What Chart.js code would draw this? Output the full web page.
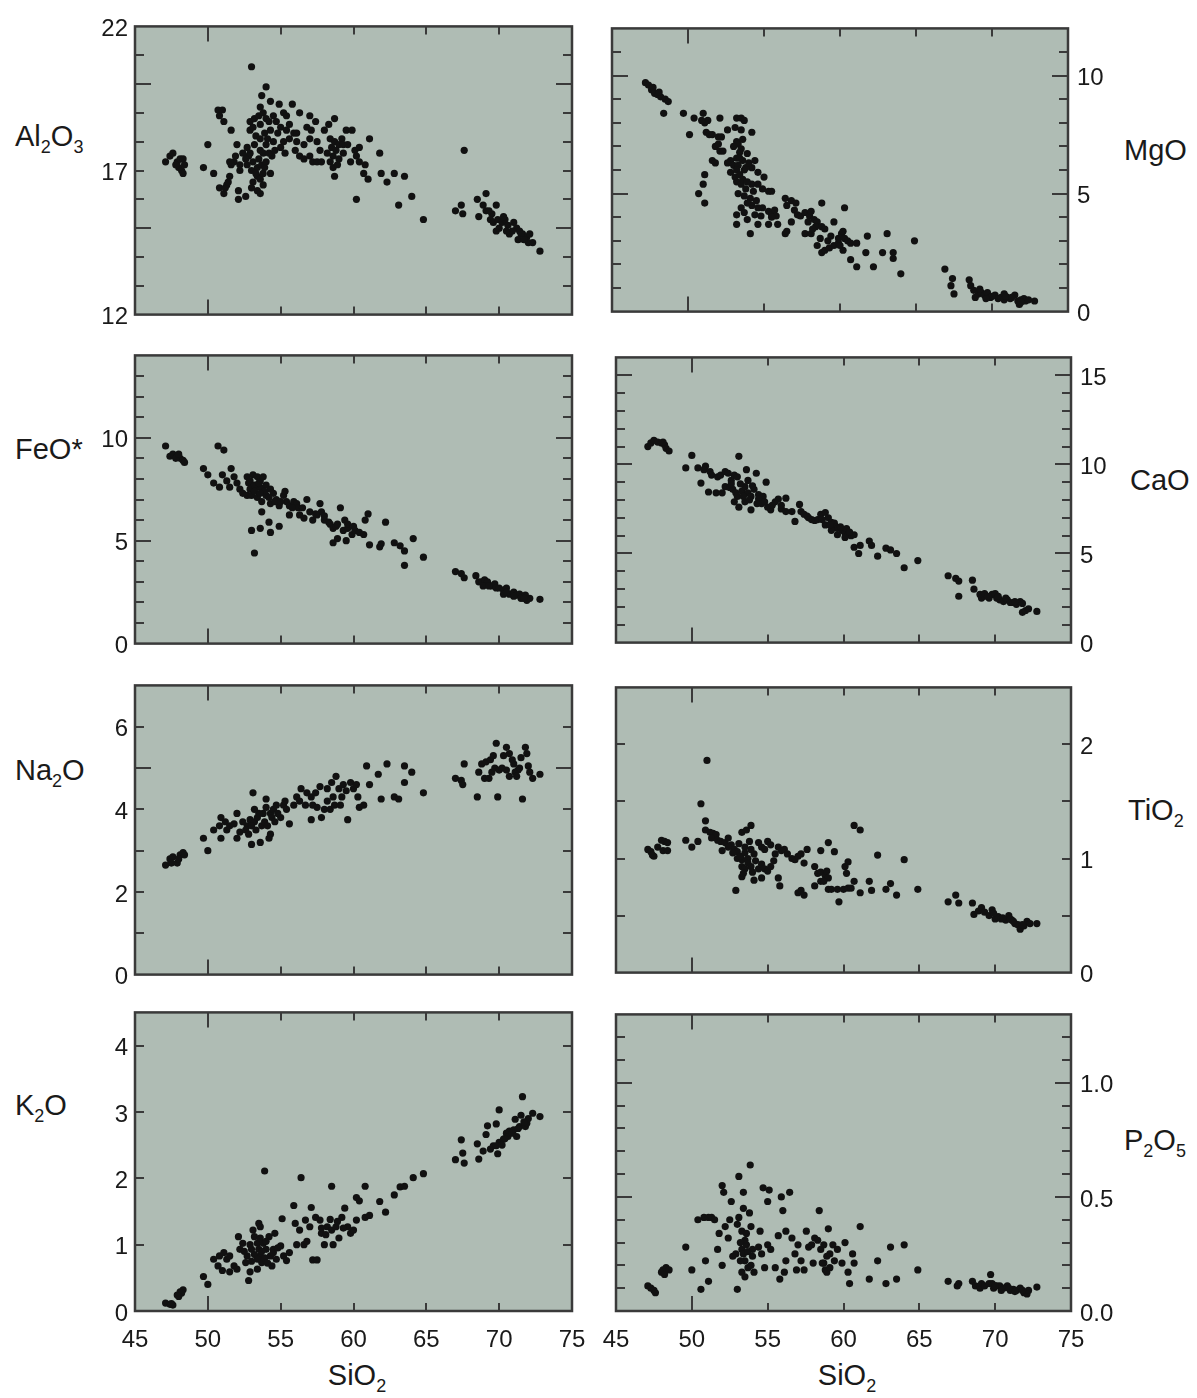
<!DOCTYPE html>
<html>
<head>
<meta charset="utf-8">
<script src="https://cdn.jsdelivr.net/npm/chart.js@4.4.1/dist/chart.umd.min.js"></script>
<style>
  body { margin: 0; background: #fff; width: 1197px; height: 1398px; position: relative; overflow: hidden;
         font-family: "Liberation Sans", Arial, sans-serif; color: #1a1a1a; }
  canvas { position: absolute; }
  .ttl { position: absolute; font-size: 29px; line-height: 29px; white-space: nowrap; }
  .ttl sub { font-size: 18px; vertical-align: -7px; line-height: 0; }
  .ctr { transform: translateX(-50%); }
</style>
</head>
<body>
<div class="ttl" style="left:15px;top:122px">Al<sub>2</sub>O<sub>3</sub></div>
<div class="ttl" style="left:15px;top:435px">FeO*</div>
<div class="ttl" style="left:15px;top:756px">Na<sub>2</sub>O</div>
<div class="ttl" style="left:15px;top:1091px">K<sub>2</sub>O</div>
<div class="ttl" style="left:1124px;top:136px">MgO</div>
<div class="ttl" style="left:1130px;top:466px">CaO</div>
<div class="ttl" style="left:1128px;top:796px">TiO<sub>2</sub></div>
<div class="ttl" style="left:1124px;top:1126px">P<sub>2</sub>O<sub>5</sub></div>
<div class="ttl ctr" style="left:357px;top:1361px">SiO<sub>2</sub></div>
<div class="ttl ctr" style="left:847px;top:1361px">SiO<sub>2</sub></div>

<script>
// x axis (SiO2, wt%)
const sio2Labels = [45, 50, 55, 60, 65, 70, 75];
const sio2TickMarks = [50, 55, 60, 65, 70];
const sio2Major = [50];

// [SiO2, oxide] pairs
const al2o3Points = [
  [47.1,17.3],[47.4,17.5],[47.6,17.6],[47.9,17.3],[48.1,17.4],[48.3,17.4],[48.0,17.1],[48.2,17.0],[48.3,16.9],[47.8,17.2],[48.4,17.2],
  [49.7,17.1],[50.0,17.9],[50.4,16.9],
  [50.7,19.1],[50.8,18.9],[51.0,19.1],[51.1,18.7],[51.6,18.4],[50.8,16.4],[51.1,16.2],[51.3,16.5],[51.5,16.8],[51.2,16.4],[51.4,16.6],
  [51.8,17.3],[51.6,17.2],[52.0,17.9],[52.1,16.3],[52.1,16.0],[52.6,16.1],[52.2,17.0],[51.9,17.5],[51.5,17.3],
  [53.0,20.6],[54.0,19.9],[53.7,19.6],[53.6,19.2],[54.3,19.4],[54.9,19.3],[55.8,19.3],[52.9,18.7],[53.2,18.8],[53.5,18.9],
  [53.8,19.0],[54.0,18.8],[54.5,18.9],[54.7,18.7],[55.2,19.0],[55.4,18.9],[55.6,18.6],[52.9,18.4],[53.1,18.5],[53.6,18.6],
  [54.3,18.4],[55.0,18.5],[55.4,18.4],[55.9,18.3],[56.1,18.3],[52.7,17.8],[52.9,17.6],[53.2,17.9],[53.6,17.7],[54.0,17.9],
  [54.5,18.0],[55.0,17.8],[55.2,18.0],[52.8,17.5],[53.1,17.3],[53.4,17.1],[53.7,17.2],[54.0,17.3],[54.4,17.5],[53.4,16.8],
  [53.6,16.7],[53.8,16.9],[54.3,16.9],[53.1,16.6],[53.4,16.3],[53.6,16.2],[53.0,16.4],[53.8,17.6],[52.4,17.6],[52.7,17.2],[52.2,17.2],
  [53.3,18.2],[53.5,17.4],[53.9,18.3],[54.2,17.6],[54.6,17.7],[53.0,17.0],[53.3,16.9],[53.8,16.5],[54.1,18.1],[54.8,18.3],
  [55.3,17.6],[55.6,18.1],[53.6,18.1],[54.2,18.7],[52.6,17.4],[53.9,17.1],
  [56.3,19.0],[57.0,18.9],[57.4,18.7],[56.1,18.0],[56.6,17.9],[57.0,18.1],[57.5,18.0],[57.7,17.7],[56.0,17.7],[56.3,17.5],
  [56.6,17.4],[57.0,17.5],[57.2,17.3],[57.5,17.3],[57.8,17.3],[56.8,18.5],[57.1,18.4],
  [58.7,18.8],[58.0,18.4],[58.4,18.1],[58.7,18.0],[59.0,17.9],[58.5,17.8],[58.8,17.7],[59.2,18.1],[59.5,18.4],[59.9,18.4],
  [59.3,17.9],[58.6,17.5],[59.0,17.4],[58.4,17.3],[58.6,17.1],[58.7,16.8],[59.3,17.6],[59.8,17.3],[60.1,17.7],[60.4,17.8],
  [60.2,17.5],[60.4,17.3],[60.8,17.2],[60.7,16.9],[61.0,16.7],[60.2,16.0],[61.1,18.1],[61.8,17.6],[61.9,16.9],[62.3,16.6],
  [62.8,16.9],[63.5,16.8],[63.1,15.8],[64.0,16.1],[64.8,15.3],[58.2,17.6],[58.9,17.2],[59.6,17.9],[58.3,18.6],
  [67.6,17.7],
  [67.0,15.6],[67.4,15.8],[67.5,15.5],[68.5,16.0],[69.1,16.2],[68.6,15.4],[68.9,15.8],[69.1,15.6],[69.5,15.5],[69.8,15.8],
  [69.4,15.3],[69.6,15.2],[69.9,15.3],[70.2,15.2],[70.4,15.3],[70.6,15.1],[71.0,15.2],[71.2,15.0],[70.7,14.8],[69.8,14.9],
  [71.4,14.9],[71.6,14.8],[71.9,14.7],[72.1,14.8],[72.0,14.5],[72.3,14.5],[72.8,14.2],[71.5,14.8],[70.3,15.4],
  [70.0,15.0],[70.9,14.9],[71.3,14.6],[71.7,14.6],[69.3,15.6],[70.5,14.9]
];

const mgoPoints = [
  [47.2,9.7],[47.4,9.6],[47.6,9.4],[47.8,9.25],[48.0,9.2],[48.2,9.1],[48.5,9.0],[48.7,8.9],[47.7,9.5],[48.1,9.3],
  [48.4,8.4],[49.7,8.4],[50.1,7.5],[50.4,8.2],[51.0,8.4],[51.1,8.0],[51.3,8.1],[50.9,8.1],[52.1,8.2],[51.2,7.6],
  [51.4,7.5],[51.6,7.5],[52.0,7.4],[52.2,7.4],[51.8,7.0],[52.0,7.1],[52.1,6.8],[52.3,6.8],[51.6,6.4],[51.8,6.3],
  [51.1,5.8],[51.0,5.4],[50.7,5.0],[51.1,4.6],
  [53.2,8.2],[53.5,8.2],[53.7,8.1],[52.6,7.7],[53.1,7.8],[53.5,7.7],[54.2,7.6],[53.2,7.2],[53.3,7.1],[53.5,6.9],
  [53.4,6.75],[53.9,6.7],[53.2,6.5],[52.8,6.4],[52.6,6.3],[53.0,6.2],[53.3,6.2],[53.6,6.4],[54.4,6.4],[54.2,6.1],
  [52.8,5.9],[53.2,6.0],[53.7,6.0],[54.6,5.9],[55.0,5.7],[53.2,5.5],[53.5,5.4],[53.8,5.2],[54.2,5.4],[54.6,5.4],
  [54.9,5.2],[55.3,5.1],[55.5,5.1],[53.3,5.0],[53.7,4.9],[54.1,4.8],[53.5,4.4],[54.2,4.5],[54.6,4.4],[54.9,4.4],
  [53.2,4.1],[53.7,4.2],[54.4,4.1],[54.8,4.05],[55.3,4.25],[55.5,4.1],[55.7,4.3],[55.8,4.05],[53.2,3.7],[53.9,3.9],
  [54.1,3.3],[54.6,3.7],[55.3,3.7],[55.5,4.0],[55.9,3.7],[56.4,3.3],[56.5,3.4],[56.8,3.8],
  [53.0,7.0],[53.4,6.5],[53.6,7.3],[53.8,6.1],[53.1,5.7],[53.4,5.8],[53.6,5.6],[53.9,5.5],[54.0,6.3],[54.3,5.1],
  [53.9,4.6],[54.5,4.7],
  [56.4,4.8],[56.8,4.7],[57.1,4.6],[56.5,4.5],[57.0,4.3],[57.2,4.1],[57.4,4.05],[57.7,4.2],[58.0,4.05],[58.1,4.25],
  [58.3,3.9],[58.5,3.8],[58.8,4.6],[58.4,3.6],[58.8,3.6],[59.0,3.5],[57.7,3.3],[58.1,3.3],[58.7,3.1],[58.5,2.8],
  [58.8,2.5],[59.0,2.6],[59.3,2.7],[59.6,2.8],[59.9,2.9],[59.9,3.1],[60.1,3.3],[60.2,3.4],[60.3,3.1],[60.5,3.0],
  [60.7,2.9],[61.1,2.9],[59.6,3.8],[60.3,4.4],[60.2,2.6],[60.7,2.2],[61.1,1.9],[61.7,2.5],[61.8,3.2],[62.2,1.9],
  [62.8,2.5],[63.1,3.3],[63.5,2.5],[63.5,2.25],[64.0,1.6],[64.9,3.0],
  [57.9,3.8],[58.2,3.5],[59.2,3.0],[59.4,3.2],[60.0,2.8],
  [66.9,1.8],[67.4,1.4],[67.3,1.1],[67.5,0.75],[68.5,1.35],[68.6,1.1],[68.8,0.9],[69.1,0.75],[68.9,0.6],[69.3,0.8],
  [69.5,0.7],[69.7,0.8],[69.9,0.6],[70.2,0.7],[70.4,0.55],[70.6,0.6],[70.8,0.5],[71.0,0.6],[71.2,0.55],[71.5,0.7],
  [71.7,0.45],[71.9,0.5],[72.1,0.55],[71.8,0.3],[72.8,0.45],[72.2,0.45],[69.2,0.95],[70.8,0.75],
  [70.0,0.65],[70.9,0.65],[71.3,0.6],[71.9,0.4],[72.4,0.5],[69.6,0.55]
];

const feoPoints = [
  [47.1,9.6],[47.4,9.1],[47.6,9.2],[47.9,9.1],[48.1,9.0],[48.3,8.9],[48.4,8.8],[47.8,9.0],[48.0,9.2],
  [49.7,8.5],[50.0,8.2],[50.4,7.8],[50.7,9.6],[51.1,9.4],[51.0,8.2],[50.8,7.6],[51.3,7.9],[51.6,8.5],[51.5,7.6],
  [51.8,8.1],[52.0,7.8],[52.2,7.5],[52.4,7.3],[52.7,8.1],[52.8,7.8],[52.9,7.5],[53.1,8.2],[53.4,8.1],[53.6,7.9],
  [53.8,8.1],[53.4,7.6],[53.7,7.55],[54.0,7.7],[54.3,7.5],[54.5,7.3],[52.7,7.2],[53.0,7.2],[53.4,7.1],[53.7,6.9],
  [54.0,7.2],[54.7,7.0],[55.2,7.2],[55.4,6.9],[55.6,6.7],[55.9,6.9],[56.1,6.8],[53.7,6.4],[54.3,6.8],[54.9,6.7],
  [55.3,7.4],[55.6,6.25],[56.2,6.6],[56.8,7.0],[56.3,6.25],[56.6,6.1],[57.0,6.4],[57.2,6.0],[57.5,6.25],[57.7,6.8],
  [57.8,6.4],[58.0,6.0],[58.3,5.9],[58.4,5.8],[58.6,5.6],[58.8,5.7],[59.1,6.6],[59.4,6.0],[59.3,5.5],[59.6,5.6],
  [59.9,5.3],[60.1,5.5],[60.4,5.4],[60.7,5.3],[61.0,6.3],[60.8,6.0],[62.2,5.9],[53.0,5.5],[53.6,5.6],[54.3,5.4],
  [54.2,5.9],[54.9,5.7],[53.2,4.4],[58.6,4.9],[58.9,5.1],[59.5,5.0],[61.1,4.8],[61.8,4.7],[61.9,4.85],[62.8,4.9],
  [63.2,4.75],[63.5,4.5],[63.5,3.8],[64.1,5.1],[64.8,4.2],
  [52.9,7.9],[53.2,7.7],[53.5,7.8],[53.9,7.4],[53.2,7.4],[53.6,7.3],[54.2,7.1],[54.6,6.9],[55.0,6.9],[55.8,6.6],
  [56.5,6.6],[57.4,6.3],[58.0,6.2],[58.9,5.8],[59.6,5.8],[60.0,5.7],
  [67.0,3.5],[67.4,3.4],[67.6,3.2],[68.4,3.3],[68.6,3.0],[68.8,3.0],[69.0,3.1],[69.2,3.0],[69.5,2.8],[69.7,2.9],
  [69.8,2.7],[70.0,2.7],[70.3,2.6],[70.5,2.7],[70.7,2.4],[71.0,2.5],[71.2,2.35],[71.4,2.4],[71.6,2.3],[71.9,2.1],
  [72.1,2.2],[71.8,2.35],[72.8,2.15],[68.9,2.8],[70.3,2.4],[70.5,2.5],[71.0,2.3],[71.5,2.2],[69.3,2.8],[71.7,2.2]
];

const caoPoints = [
  [47.1,11.0],[47.3,11.2],[47.5,11.35],[47.75,11.25],[48.0,11.2],[48.2,11.1],[48.3,10.9],[48.5,10.75],[48.1,11.25],
  [49.6,9.8],[50.0,10.5],[50.4,9.8],[50.6,8.95],[50.9,9.9],[51.1,8.45],[50.8,9.7],[51.2,9.6],[51.3,9.4],[51.6,8.4],
  [51.7,9.3],[51.9,9.4],[52.0,8.4],[52.2,9.6],[52.4,9.5],[52.6,9.1],[52.8,9.4],[53.0,9.3],[53.1,10.45],[53.6,9.7],
  [54.25,9.5],[54.9,9.0],[52.2,8.75],[52.5,8.7],[52.7,8.6],[52.9,8.4],[53.0,8.2],[53.3,8.5],[53.5,8.75],[53.7,8.4],
  [53.9,8.2],[54.1,8.6],[54.4,8.3],[54.7,8.2],[52.8,7.9],[53.1,7.6],[53.5,7.9],[53.9,7.45],[54.4,8.05],[54.6,7.8],
  [54.8,7.9],[55.0,7.6],[55.2,7.45],[55.5,7.9],[55.7,8.05],[56.2,8.1],[55.9,7.5],[56.2,7.35],[56.6,7.35],[56.8,6.8],
  [57.1,7.75],[57.2,7.35],[57.4,7.2],[57.7,7.0],[57.9,6.9],[58.1,6.85],[58.3,6.9],[58.5,7.2],[58.8,7.3],[59.0,7.0],
  [59.2,6.75],[59.4,6.7],[59.5,6.5],[59.6,6.4],[59.9,6.3],[60.1,6.15],[60.3,6.05],[60.5,6.0],[60.7,6.05],[58.8,6.6],
  [59.2,6.3],[59.6,6.05],[60.1,5.9],[60.7,5.35],[61.0,5.0],[61.1,5.45],[61.7,5.7],[61.85,5.45],[62.25,4.85],[62.8,5.3],
  [63.1,5.2],[63.5,5.0],[64.0,4.2],[64.9,4.6],
  [52.6,8.9],[53.2,8.9],[53.4,8.2],[53.8,8.0],[54.0,8.8],[54.3,7.8],[53.7,9.1],[55.3,7.7],[55.9,7.7],[57.6,7.1],
  [58.6,6.9],[59.1,6.6],[59.8,6.5],[60.2,6.4],[60.4,6.2],
  [66.9,3.75],[67.4,3.6],[67.6,3.45],[67.6,2.6],[68.5,3.5],[68.6,3.0],[69.0,2.7],[69.1,2.5],[69.3,2.6],[69.6,2.5],
  [69.8,2.7],[70.0,2.75],[70.1,2.5],[70.3,2.4],[70.55,2.3],[70.8,2.4],[71.0,2.25],[71.2,2.25],[71.4,2.15],[71.65,2.3],
  [71.8,1.7],[72.0,1.8],[72.2,1.9],[72.75,1.75],[69.3,2.75],[70.2,2.6],[70.7,2.5],[71.3,2.3],[71.8,2.2],[69.5,2.6]
];

const na2oPoints = [
  [47.1,2.65],[47.4,2.8],[47.6,2.85],[47.9,2.7],[48.1,2.9],[48.3,2.95],[47.5,2.7],[48.0,2.8],[48.4,2.9],
  [49.7,3.3],[50.0,3.0],[50.4,3.5],[50.9,3.8],[50.9,3.3],[50.8,3.6],[51.2,3.7],[51.3,3.5],[51.5,3.6],[51.8,3.65],
  [52.0,3.9],[52.0,3.3],[52.2,3.45],[52.4,3.7],[52.7,3.6],[52.9,3.75],[53.0,3.15],[53.1,4.4],[53.2,3.7],[53.4,3.8],
  [53.6,3.2],[53.7,3.6],[53.8,3.9],[54.0,4.25],[54.0,4.05],[54.2,3.3],[54.3,3.4],[54.3,3.9],[54.5,4.0],[54.7,4.1],
  [55.0,3.8],[55.2,4.1],[55.4,4.0],[55.6,3.65],[55.9,4.1],[56.1,4.3],[56.3,4.2],[56.4,4.5],[56.7,4.1],[56.8,4.4],
  [57.1,4.3],[57.2,4.1],[57.1,3.75],[57.5,4.05],[57.7,4.55],[57.8,3.8],[58.0,4.0],[58.2,4.2],[58.4,4.0],[58.5,4.65],
  [58.6,4.3],[58.8,4.8],[59.0,4.5],[59.1,4.1],[59.3,4.6],[59.5,4.45],[59.6,3.75],[59.8,4.65],[60.0,4.5],[60.2,4.6],
  [60.3,4.3],[60.4,4.05],[60.7,4.1],[60.9,5.05],[61.1,4.6],[61.7,4.85],[61.9,4.25],[62.3,5.1],[62.8,4.3],[63.1,4.25],
  [63.5,5.05],[63.5,4.65],[64.0,4.9],[64.8,4.4],
  [52.6,3.5],[52.8,3.4],[53.0,3.6],[53.3,3.5],[53.5,3.9],[53.9,3.7],[54.1,3.6],[54.4,3.8],[54.6,3.7],[53.2,4.0],
  [54.8,3.9],[55.3,4.2],[57.4,4.4],[58.2,4.5],[58.7,4.1],[59.2,4.3],
  [67.0,4.75],[67.4,4.7],[67.6,5.1],[67.5,4.6],[68.5,4.3],[68.6,4.9],[68.8,5.1],[69.0,4.75],[69.1,5.15],[69.3,4.75],
  [69.5,4.9],[69.4,5.2],[69.7,5.0],[69.9,4.3],[69.8,5.6],[70.0,4.95],[70.3,5.3],[70.5,5.5],[70.7,5.35],[70.7,4.8],
  [71.0,5.1],[71.1,4.9],[71.3,4.95],[71.5,5.25],[71.6,4.25],[71.8,5.5],[71.9,5.35],[72.0,5.05],[72.1,4.9],[72.3,4.75],
  [72.8,4.85],[70.5,4.95],[71.2,4.8],[70.2,5.0],[70.9,5.2],[71.4,5.0],[69.6,5.3]
];

const tio2Points = [
  [47.1,1.08],[47.3,1.06],[47.5,1.02],[47.75,1.10],[48.0,1.16],[48.2,1.15],[48.4,1.14],[48.1,1.07],[48.4,1.07],[47.4,1.03],
  [49.6,1.16],[50.0,1.10],[50.4,1.15],[50.6,1.48],[51.0,1.86],[50.9,1.33],[50.9,1.25],[51.2,1.23],[51.4,1.22],[51.6,1.21],
  [51.3,1.18],[51.7,1.16],[51.9,1.15],[52.2,1.14],[52.0,1.07],[52.4,1.18],[52.6,1.12],[52.8,1.08],[53.0,1.06],[53.3,1.23],
  [53.6,1.25],[53.9,1.29],[53.8,1.15],[53.5,1.10],[53.0,1.00],[53.3,0.99],[53.7,1.00],[54.1,1.04],[54.4,1.14],[54.6,1.10],
  [54.8,1.08],[55.0,1.15],[55.2,1.12],[55.5,1.04],[55.7,1.10],[55.9,1.07],[56.1,1.08],[56.3,1.04],[56.6,1.00],[56.8,0.99],
  [57.0,1.02],[57.2,1.04],[57.4,0.96],[57.6,1.08],[53.3,0.93],[53.5,0.91],[53.9,0.93],[54.4,0.91],[54.6,0.95],[54.8,0.91],
  [55.0,0.89],[55.2,0.93],[53.3,0.84],[54.1,0.81],[54.6,0.83],[55.7,0.83],[55.8,0.76],[52.9,0.72],[57.0,0.70],[57.2,0.72],
  [57.4,0.68],[58.1,0.93],[58.3,0.87],[58.5,0.88],[58.8,0.85],[59.0,0.83],[58.5,0.80],[58.1,0.76],[58.5,1.07],[59.0,1.14],
  [59.4,1.06],[59.0,0.73],[59.2,0.73],[59.6,0.73],[60.0,0.73],[60.3,0.74],[60.5,0.74],[60.1,0.93],[60.3,0.97],[60.2,0.87],
  [60.7,1.29],[61.1,1.25],[60.7,0.80],[61.1,0.70],[61.7,0.80],[61.85,0.72],[62.25,1.03],[62.8,0.73],[63.1,0.78],[63.5,0.68],
  [64.0,0.99],[64.9,0.73],[59.7,0.62],
  [52.4,1.10],[52.7,1.05],[53.1,1.13],[53.2,1.02],[53.5,1.05],[53.7,0.96],[53.9,1.08],[54.2,0.98],[54.0,0.88],[53.4,0.87],
  [55.4,0.98],[58.7,0.80],[58.9,0.89],
  [66.9,0.62],[67.4,0.68],[67.6,0.61],[68.5,0.61],[68.6,0.51],[68.9,0.54],[69.1,0.57],[69.3,0.53],[69.8,0.55],[70.0,0.47],
  [70.2,0.49],[70.4,0.47],[70.7,0.46],[70.9,0.50],[71.1,0.46],[71.3,0.43],[71.5,0.42],[71.65,0.38],[71.9,0.41],[72.1,0.45],
  [72.3,0.43],[72.75,0.43],[69.6,0.50],[71.0,0.47],[70.5,0.48],[71.2,0.45],[71.8,0.42],[69.9,0.52]
];

const k2oPoints = [
  [47.1,0.12],[47.4,0.1],[47.6,0.09],[47.9,0.24],[48.1,0.29],[48.3,0.32],[48.2,0.27],[48.0,0.22],[47.5,0.11],
  [49.7,0.52],[50.0,0.4],[50.4,0.78],[50.7,0.68],[50.8,0.83],[51.0,0.61],[51.1,0.88],[51.3,0.78],[51.5,0.83],[51.5,0.59],
  [51.8,0.68],[52.0,0.63],[52.1,1.12],[52.2,0.93],[52.4,1.02],[52.6,0.73],[52.7,0.83],[52.8,0.46],[52.9,0.59],[53.0,0.93],
  [53.1,1.22],[53.2,1.12],[53.4,1.02],[53.5,1.32],[53.6,1.27],[53.5,0.93],[53.6,0.83],[53.4,0.63],[53.7,0.73],[53.8,1.02],
  [53.9,2.11],[54.0,0.93],[54.2,1.12],[54.3,0.83],[54.4,0.68],[54.5,0.93],[54.6,1.17],[54.7,0.78],[55.0,0.98],[55.1,1.39],
  [55.2,0.83],[55.4,0.76],[55.6,0.88],[55.9,1.59],[56.0,1.32],[56.1,1.0],[56.3,1.22],[56.4,2.01],[56.6,1.0],[56.7,1.37],
  [56.8,1.05],[57.0,1.27],[57.1,1.56],[57.2,0.77],[57.5,0.77],[57.4,1.41],[57.7,1.37],[57.8,1.17],[58.0,1.0],[58.2,1.27],
  [58.4,1.38],[58.5,1.88],[58.5,1.22],[58.6,1.0],[58.8,1.27],[59.0,1.1],[59.2,1.41],[59.4,1.55],[59.6,1.27],[59.8,1.17],
  [60.0,1.22],[60.2,1.37],[60.2,1.71],[60.4,1.66],[60.8,1.88],[60.8,1.41],[61.1,1.44],[61.8,1.65],[62.2,1.49],[62.8,1.75],
  [63.2,1.87],[63.5,1.88],[64.1,2.01],[64.8,2.07],
  [53.0,0.75],[53.2,0.85],[53.4,0.78],[53.7,0.9],[53.9,0.8],[54.1,0.72],[53.6,1.1],[54.0,1.05],[54.5,0.88],[52.5,0.9],
  [52.9,1.0],[54.8,0.95],[57.8,1.25],[58.1,1.15],[58.9,1.35],[59.3,1.25],
  [67.0,2.28],[67.4,2.58],[67.5,2.38],[67.6,2.23],[68.5,2.52],[68.6,2.29],[69.1,2.66],[69.2,2.79],[68.9,2.41],[69.4,2.44],
  [69.6,2.49],[69.8,2.82],[69.9,2.37],[70.0,3.03],[70.0,2.54],[70.3,2.59],[70.5,2.68],[70.7,2.71],[71.0,2.73],[71.1,2.89],
  [71.2,2.63],[71.4,2.78],[71.5,2.95],[71.6,3.23],[71.8,2.78],[71.9,2.83],[72.0,2.9],[72.3,2.98],[72.8,2.93],[70.6,2.63],[69.8,2.49],
  [70.4,2.6],[70.9,2.68],[71.3,2.75],[71.7,2.85],[70.2,2.5]
];

const p2o5Points = [
  [47.1,0.11],[47.3,0.10],[47.5,0.09],[47.6,0.08],[48.0,0.17],[48.1,0.18],[48.3,0.19],[48.5,0.18],[48.2,0.16],
  [49.6,0.28],[50.0,0.18],[50.4,0.40],[50.6,0.095],[50.8,0.41],[51.1,0.41],[51.3,0.41],[51.5,0.40],[50.9,0.22],[51.1,0.13],
  [51.7,0.27],[51.8,0.34],[52.0,0.55],[52.1,0.52],[52.0,0.20],[52.2,0.37],[52.4,0.32],[52.5,0.40],[52.6,0.48],[52.7,0.24],
  [52.9,0.25],[53.0,0.095],[53.0,0.38],[53.1,0.59],[53.1,0.41],[53.3,0.35],[53.3,0.27],[53.3,0.17],[53.4,0.52],[53.4,0.45],
  [53.5,0.22],[53.6,0.29],[53.7,0.19],[53.8,0.43],[53.85,0.64],[53.9,0.37],[54.0,0.27],[54.1,0.17],[54.4,0.28],[54.5,0.35],
  [54.6,0.25],[54.7,0.54],[54.8,0.19],[55.0,0.48],[55.1,0.53],[55.0,0.29],[55.2,0.27],[55.5,0.19],[55.7,0.33],[55.8,0.14],
  [55.9,0.50],[56.0,0.44],[56.1,0.17],[56.2,0.35],[56.2,0.22],[56.45,0.52],[56.6,0.32],[56.8,0.25],[56.9,0.18],[57.0,0.29],
  [57.2,0.22],[57.4,0.18],[57.55,0.35],[57.7,0.28],[57.9,0.29],[58.0,0.21],[58.1,0.32],[58.3,0.31],[58.4,0.44],[58.5,0.27],
  [58.7,0.21],[58.8,0.18],[58.9,0.17],[59.0,0.36],[59.1,0.25],[59.3,0.29],[59.4,0.22],[59.6,0.27],[59.9,0.21],[60.1,0.30],
  [60.3,0.17],[60.4,0.12],[60.6,0.25],[60.7,0.21],[61.1,0.37],[61.7,0.14],[62.25,0.22],[62.8,0.12],[63.1,0.28],[63.5,0.14],
  [64.0,0.29],[64.9,0.18],
  [53.2,0.22],[53.4,0.25],[53.5,0.31],[53.7,0.26],[53.2,0.30],[53.6,0.34],[53.9,0.20],[54.0,0.24],[53.5,0.15],[58.6,0.21],
  [58.9,0.24],[59.1,0.19],[58.7,0.29],
  [66.9,0.13],[67.5,0.11],[67.6,0.12],[68.5,0.13],[68.7,0.11],[69.0,0.10],[69.1,0.12],[69.3,0.11],[69.6,0.12],[69.7,0.16],
  [69.9,0.10],[70.1,0.11],[70.3,0.11],[70.55,0.10],[70.8,0.11],[71.0,0.09],[71.2,0.095],[71.4,0.09],[71.65,0.10],[71.9,0.08],
  [72.1,0.075],[72.2,0.09],[72.75,0.105],[69.8,0.12],[70.0,0.11],[70.9,0.10],[71.3,0.085],[71.8,0.09],[70.4,0.09]
];

// y axis ranges, labels and tick marks
const al2o3Range = [12, 22], al2o3Labels = [12, 17, 22], al2o3Marks = [13,14,15,16,17,18,19,20,21], al2o3Major = [15, 20];
const mgoRange = [0, 12], mgoLabels = [0, 5, 10], mgoMarks = [1,2,3,4,5,6,7,8,9,10,11], mgoMajor = [5, 10];
const feoRange = [0, 14], feoLabels = [0, 5, 10], feoMarks = [1,2,3,4,5,6,7,8,9,10,11,12,13], feoMajor = [5, 10];
const caoRange = [0, 16], caoLabels = [0, 5, 10, 15], caoMarks = [1,2,3,4,5,6,7,8,9,10,11,12,13,14,15], caoMajor = [5, 10, 15];
const na2oRange = [0, 7], na2oLabels = [0, 2, 4, 6], na2oMarks = [1,2,3,4,5,6], na2oMajor = [5];
const tio2Range = [0, 2.5], tio2Labels = [0, 1, 2], tio2Marks = [0.5, 1, 1.5, 2], tio2Major = [];
const k2oRange = [0, 4.5], k2oLabels = [0, 1, 2, 3, 4], k2oMarks = [1, 2, 3, 4], k2oMajor = [];
const p2o5Range = [0, 1.3], p2o5Labels = [0, 0.5, 1.0], p2o5Marks = [0.1,0.2,0.3,0.4,0.5,0.6,0.7,0.8,0.9,1.0,1.1,1.2], p2o5Major = [0.5, 1.0];

const plotBg = '#afbcb4';
const frameColor = '#3a3a3a';
const textColor = '#1a1a1a';
const tickFont = { family: '"Liberation Sans", Arial, sans-serif', size: 24 };

const panels = [
  { pts: al2o3Points, range: al2o3Range, labels: al2o3Labels, marks: al2o3Marks, major: al2o3Major, side: 'left',  box: [135, 19, 572, 324],  bottom: false, dec: 0 },
  { pts: mgoPoints,   range: mgoRange,   labels: mgoLabels,   marks: mgoMarks,   major: mgoMajor,   side: 'right', box: [612, 19, 1068, 323], bottom: false, dec: 0 },
  { pts: feoPoints,   range: feoRange,   labels: feoLabels,   marks: feoMarks,   major: feoMajor,   side: 'left',  box: [135, 348, 572, 653], bottom: false, dec: 0 },
  { pts: caoPoints,   range: caoRange,   labels: caoLabels,   marks: caoMarks,   major: caoMajor,   side: 'right', box: [616, 348, 1071, 654], bottom: false, dec: 0 },
  { pts: na2oPoints,  range: na2oRange,  labels: na2oLabels,  marks: na2oMarks,  major: na2oMajor,  side: 'left',  box: [135, 678, 572, 984], bottom: false, dec: 0 },
  { pts: tio2Points,  range: tio2Range,  labels: tio2Labels,  marks: tio2Marks,  major: tio2Major,  side: 'right', box: [616, 678, 1071, 984], bottom: false, dec: 0 },
  { pts: k2oPoints,   range: k2oRange,   labels: k2oLabels,   marks: k2oMarks,   major: k2oMajor,   side: 'left',  box: [135, 1005, 572, 1311], bottom: true, dec: 0 },
  { pts: p2o5Points,  range: p2o5Range,  labels: p2o5Labels,  marks: p2o5Marks,  major: p2o5Major,  side: 'right', box: [616, 1005, 1071, 1311], bottom: true, dec: 1 }
];

// background, frame and inward tick marks on all four sides
const framePlugin = {
  id: 'frame',
  beforeDatasetsDraw(chart) {
    const { ctx, chartArea: a } = chart;
    ctx.save();
    ctx.fillStyle = plotBg;
    ctx.fillRect(a.left, a.top, a.right - a.left, a.bottom - a.top);
    ctx.restore();
  },
  afterDatasetsDraw(chart, args, opts) {
    const { ctx, chartArea: a, scales } = chart;
    ctx.save();
    ctx.strokeStyle = frameColor;
    ctx.lineWidth = 2;
    ctx.beginPath();
    sio2TickMarks.forEach(v => {
      const px = Math.round(scales.x.getPixelForValue(v));
      const len = sio2Major.includes(v) ? 15 : 8;
      ctx.moveTo(px, a.top); ctx.lineTo(px, a.top + len);
      ctx.moveTo(px, a.bottom); ctx.lineTo(px, a.bottom - len);
    });
    opts.marks.forEach(v => {
      const py = Math.round(scales.y.getPixelForValue(v));
      const len = opts.major.includes(v) ? 16 : 9;
      ctx.moveTo(a.left, py); ctx.lineTo(a.left + len, py);
      ctx.moveTo(a.right, py); ctx.lineTo(a.right - len, py);
    });
    ctx.stroke();
    ctx.lineWidth = 2.5;
    ctx.strokeRect(a.left, a.top, a.right - a.left, a.bottom - a.top);
    ctx.restore();
  }
};

const AXIS_W = 70, PAD = 40, TOP = 14;

panels.forEach(p => {
  const [l, t, r, b] = p.box;
  const xh = p.bottom ? 56 : 12;
  const ml = p.side === 'left' ? AXIS_W : PAD;
  const mr = p.side === 'left' ? PAD : AXIS_W;
  const canvas = document.createElement('canvas');
  canvas.width = (r - l) + ml + mr;
  canvas.height = (b - t) + TOP + xh;
  canvas.style.left = (l - ml) + 'px';
  canvas.style.top = (t - TOP) + 'px';
  document.body.appendChild(canvas);

  new Chart(canvas, {
    type: 'scatter',
    data: {
      datasets: [{
        data: p.pts.map(([x, y]) => ({ x, y })),
        pointRadius: 3.6,
        pointBackgroundColor: '#111',
        pointBorderWidth: 0,
        pointHoverRadius: 3.6
      }]
    },
    options: {
      responsive: false,
      animation: false,
      devicePixelRatio: 1,
      layout: { padding: { top: TOP, left: p.side === 'left' ? 0 : PAD, right: p.side === 'left' ? PAD : 0, bottom: 0 } },
      plugins: {
        legend: { display: false },
        tooltip: { enabled: false },
        frame: { marks: p.marks, major: p.major }
      },
      scales: {
        x: {
          type: 'linear', position: 'bottom', min: 45, max: 75,
          grid: { display: false, drawTicks: false }, border: { display: false },
          afterBuildTicks: s => { s.ticks = sio2Labels.map(v => ({ value: v })); },
          afterFit: s => { s.height = xh; },
          ticks: { display: p.bottom, autoSkip: false, maxRotation: 0, padding: 15, font: tickFont, color: textColor }
        },
        y: {
          type: 'linear', position: p.side, min: p.range[0], max: p.range[1],
          grid: { display: false, drawTicks: false }, border: { display: false },
          afterBuildTicks: s => { s.ticks = p.labels.map(v => ({ value: v })); },
          afterFit: s => { s.width = AXIS_W; },
          ticks: {
            autoSkip: false, padding: p.side === 'left' ? 7 : 9, labelOffset: 3,
            font: tickFont, color: textColor,
            callback: v => Number(v).toFixed(p.dec)
          }
        }
      }
    },
    plugins: [framePlugin]
  });
});
</script>
</body>
</html>
